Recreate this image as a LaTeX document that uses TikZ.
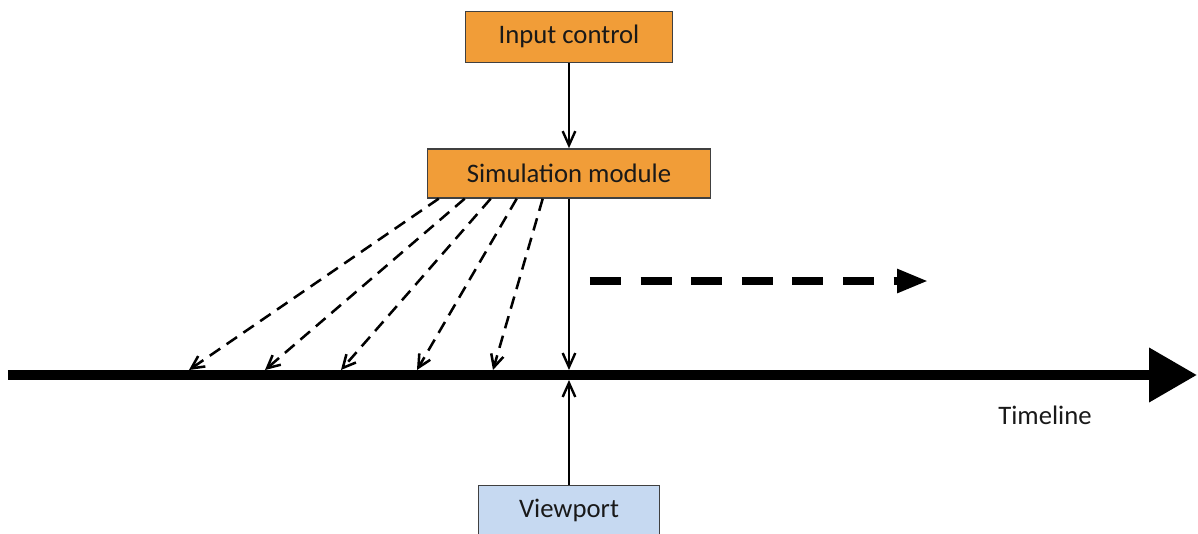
\documentclass[tikz,border=0pt]{standalone}
\usepackage{fontspec}
\setmainfont{Carlito}
\usetikzlibrary{positioning,arrows.meta,calc}
\definecolor{simorange}{RGB}{241,157,56}
\definecolor{viewblue}{RGB}{198,217,241}
\tikzset{
  block/.style={draw=black!75,line width=1.1pt,inner sep=0pt,minimum height=1.225cm,
    text=black!90,font=\fontsize{19}{23}\selectfont},
  flow/.style={line width=1.7pt,-{Straight Barb[length=10pt,width=9pt]}},
  past/.style={line width=1.8pt,dash pattern=on 9pt off 5.5pt,-{Straight Barb[length=9pt,width=9pt]}},
  ahead/.style={line width=5pt,dash pattern=on 22pt off 14pt,-{Triangle[length=22pt,width=16pt]}}
}
\begin{document}
\begin{tikzpicture}
  \useasboundingbox (-14.225,-3.95) rectangle (15.725,9.375);

  % Timeline, origin at the current frame
  \coordinate (now) at (0,0);
  \coordinate (nowtop) at (0,0.125);
  \coordinate (nowbot) at (0,-0.125);
  \draw[line width=7pt,-{Triangle[length=34pt,width=37pt]}] (-14.025,0) coordinate (start) -- (15.7,0) coordinate (end);
  \node[text=black!90,font=\fontsize{19}{23}\selectfont] (tl) at (11.9,-1.0) {Timeline};

  % The modules
  \node[block,fill=simorange,minimum width=7.075cm] (sim) at (0,5.04) {Simulation module};
  \node[block,fill=simorange,minimum width=5.175cm,minimum height=1.275cm,above=2.125cm of sim] (ctl) {Input control};
  \node[block,fill=viewblue,minimum width=4.525cm,minimum height=1.25cm,below=7.15cm of sim] (view) {Viewport};

  % Control flow
  \draw[flow] (ctl) -- (sim);
  \draw[flow] (sim.south) -- (nowtop);
  \draw[flow] (view.north) -- (nowbot);

  % Earlier steps written back onto the timeline
  \foreach \i in {1,...,5}{
    \coordinate (s\i) at ($(sim.south west)+(0.3+0.65*\i-0.65,0)$);
    \coordinate (t\i) at (-11.4+1.9*\i,0.125);
    \draw[past] (s\i) -- (t\i);
  }

  % Simulation runs ahead
  \coordinate (a) at (0.525,2.35);
  \coordinate (b) at (8.975,2.35);
  \draw[ahead] (a) -- (b);
\end{tikzpicture}
\end{document}
